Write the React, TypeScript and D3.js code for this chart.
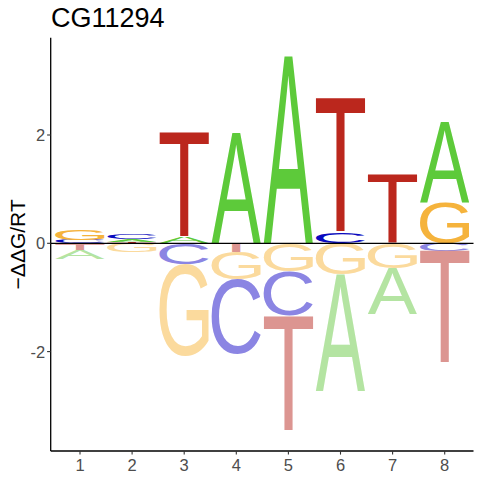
import { scaleLinear } from 'd3';
import { useMemo } from 'react';

// one -ddG/RT value per letter per position
const positions = [1, 2, 3, 4, 5, 6, 7, 8];
const letters = ['A', 'C', 'G', 'T'];
const scoreA = [-0.17, 0.05, 0.11, 2.03, 3.46, -2.16, -0.84, 1.48];
const scoreC = [0.06, 0.1, -0.38, -1.38, -0.82, 0.2, 0, -0.14];
const scoreG = [0.2, -0.17, -1.7, -0.5, -0.52, -0.57, -0.46, 0.74];
const scoreT = [-0.12, 0.02, 1.95, -0.16, -2.14, 2.49, 1.28, -2.09];
const yTicks = [-2, 0, 2];
const title = 'CG11294';
const yLabel = '\u2212\u0394\u0394G/RT';

const scores: Record<string, number[]> = { A: scoreA, C: scoreC, G: scoreG, T: scoreT };
const posColors: Record<string, string> = { A: '#5dca3a', C: '#0a0ac0', G: '#f5b33c', T: '#bb271d' };
const negColors: Record<string, string> = { A: '#b4e4a2', C: '#8b85e3', G: '#fbda9d', T: '#dc9591' };

const FONT = "'Liberation Sans', Arial, sans-serif";
const GLYPH_SIZE = 100;

// tight ink box of each glyph, so letters can be stretched to fill their cell
function measureGlyphs() {
  const ctx = document.createElement('canvas').getContext('2d')!;
  ctx.font = `${GLYPH_SIZE}px ${FONT}`;
  const out: Record<string, { left: number; ascent: number; w: number; h: number }> = {};
  letters.forEach((l) => {
    const m = ctx.measureText(l);
    out[l] = {
      left: m.actualBoundingBoxLeft,
      ascent: m.actualBoundingBoxAscent,
      w: m.actualBoundingBoxLeft + m.actualBoundingBoxRight,
      h: m.actualBoundingBoxAscent + m.actualBoundingBoxDescent,
    };
  });
  return out;
}

const App = () => {
  const glyphs = useMemo(measureGlyphs, []);

  const xScale = scaleLinear().domain([1, 8]).range([80, 444.7]);
  const yScale = scaleLinear().domain([0, 2]).range([243.3, 135]);

  const left = 50.7;
  const right = 473.5;
  const top = 37.7;
  const bottom = 451;
  const colWidth = 0.95;

  const marks: JSX.Element[] = [];
  positions.forEach((p, i) => {
    const vals = letters.map((l) => ({ l, v: scores[l][i] }));
    const pos = vals.filter((d) => d.v > 0).sort((a, b) => a.v - b.v);
    const neg = vals.filter((d) => d.v < 0).sort((a, b) => b.v - a.v);
    const x0 = xScale(p - colWidth / 2);
    const x1 = xScale(p + colWidth / 2);

    const place = (l: string, lo: number, hi: number, color: string, key: string) => {
      const g = glyphs[l];
      const y0 = yScale(hi);
      const y1 = yScale(lo);
      const sx = (x1 - x0) / g.w;
      const sy = (y1 - y0) / g.h;
      marks.push(
        <text
          key={key}
          transform={`translate(${x0},${y0}) scale(${sx},${sy}) translate(${g.left},${g.ascent})`}
          fontFamily={FONT}
          fontSize={GLYPH_SIZE}
          fill={color}
        >
          {l}
        </text>
      );
    };

    let cum = 0;
    pos.forEach((d) => {
      place(d.l, cum, cum + d.v, posColors[d.l], `p${p}${d.l}`);
      cum += d.v;
    });
    cum = 0;
    neg.forEach((d) => {
      place(d.l, cum + d.v, cum, negColors[d.l], `n${p}${d.l}`);
      cum += d.v;
    });
  });

  return (
    <svg width={480} height={480} style={{ position: 'absolute', left: 0, top: 0, background: '#fff' }}>
      <text x={51} y={26.7} fontFamily={FONT} fontSize={27} fill="#000">
        {title}
      </text>

      {marks}

      {/* zero line */}
      <line x1={left} x2={right} y1={yScale(0)} y2={yScale(0)} stroke="#000" strokeWidth={1.3} />

      {/* axes */}
      <line x1={left} x2={left} y1={top} y2={bottom} stroke="#000" strokeWidth={1.3} />
      <line x1={left} x2={right} y1={bottom} y2={bottom} stroke="#000" strokeWidth={1.3} />

      {yTicks.map((t) => (
        <g key={`y${t}`} transform={`translate(${left},${yScale(t)})`}>
          <line x1={-3.6} x2={0} stroke="#333" strokeWidth={1.1} />
          <text x={-5.5} dy="0.36em" textAnchor="end" fontFamily={FONT} fontSize={16.5} fill="#4d4d4d">
            {t < 0 ? `-${Math.abs(t)}` : t}
          </text>
        </g>
      ))}
      {positions.map((p) => (
        <g key={`x${p}`} transform={`translate(${xScale(p)},${bottom})`}>
          <line y1={0} y2={3.6} stroke="#333" strokeWidth={1.1} />
          <text y={20.3} textAnchor="middle" fontFamily={FONT} fontSize={16.5} fill="#4d4d4d">
            {p}
          </text>
        </g>
      ))}

      <text
        transform={`translate(25,${(top + bottom) / 2}) rotate(-90)`}
        textAnchor="middle"
        fontFamily={FONT}
        fontSize={21}
        fill="#000"
      >
        {yLabel}
      </text>
    </svg>
  );
};

export default App;
